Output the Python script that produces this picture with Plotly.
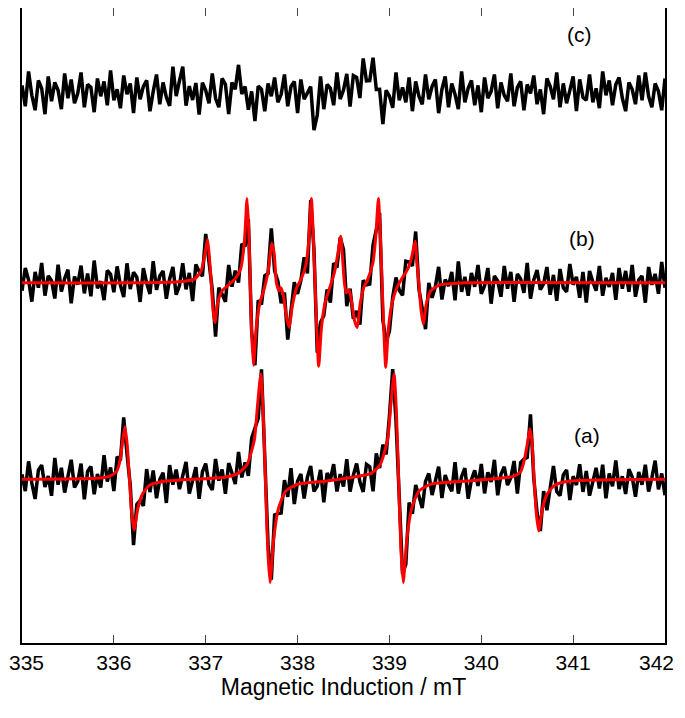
import numpy as np
import plotly.graph_objects as go

# baselines (vertical offsets of traces)
base_a, base_b, base_c = 165, 363, 555

red_a_x = [335, 335.8, 335.95, 336.03, 336.07, 336.09, 336.12, 336.145, 336.17, 336.195, 336.22, 336.26, 336.31, 336.39, 336.55,
           337.2, 337.35, 337.45, 337.53, 337.56, 337.6, 337.625, 337.65, 337.675, 337.70, 337.74, 337.79, 337.87, 338.0, 338.3,
           338.6, 338.8, 338.9, 338.98, 339.01, 339.05, 339.075, 339.10, 339.125, 339.15, 339.19, 339.24, 339.32, 339.45, 339.8,
           340.2, 340.35, 340.43, 340.47, 340.5, 340.53, 340.555, 340.575, 340.6, 340.625, 340.665, 340.715, 340.8, 340.95, 342]
red_a_y = [0, 1, 3, 8, 20, 35, 53, 35, 0, -35, -51, -30, -15, -6, -2,
           2, 6, 15, 40, 70, 106, 70, 0, -70, -104, -60, -30, -12, -5, -2,
           2, 6, 15, 40, 70, 106, 70, 0, -70, -104, -60, -30, -12, -5, -2,
           1, 3, 8, 20, 35, 51, 35, 0, -35, -52, -30, -15, -6, -2, 0]

red_b_x = [335, 336.7, 336.88, 336.95, 336.99, 337.02, 337.045, 337.06, 337.08, 337.10, 337.13, 337.18, 337.25, 337.32, 337.38,
           337.42, 337.45, 337.47, 337.485, 337.50, 337.52, 337.55, 337.59, 337.64, 337.68, 337.72, 337.745, 337.77, 337.80, 337.82,
           337.85, 337.88, 337.91, 337.94, 337.99, 338.04, 338.09, 338.12, 338.15, 338.17, 338.19, 338.21, 338.23, 338.26, 338.30,
           338.35, 338.40, 338.44, 338.47, 338.49, 338.51, 338.53, 338.56, 338.59, 338.62, 338.65, 338.68, 338.72, 338.77, 338.82,
           338.85, 338.88, 338.90, 338.92, 338.94, 338.96, 338.99, 339.03, 339.08, 339.14, 339.2, 339.24, 339.28, 339.30, 339.32,
           339.345, 339.37, 339.40, 339.45, 339.55, 339.8, 342]
red_b_y = [0, 1, 4, 12, 28, 44, 20, 0, -28, -40, -20, -8, -2, 4, 14,
           40, 85, 50, 0, -50, -83, -45, -20, -5, 12, 40, 30, 0, -8, -5,
           -15, -35, -45, -25, -5, 4, 18, 40, 85, 50, 0, -50, -84, -45, -20,
           -5, 10, 30, 47, 25, 0, -10, -7, -20, -38, -45, -22, -5, 5, 20,
           45, 85, 50, 0, -50, -85, -45, -20, -5, 5, 14, 25, 42, 20, 0,
           -28, -42, -22, -8, -2, 0, 0]

c_feat_x = [335, 336.6, 336.75, 336.85, 337.0, 337.3, 337.38, 337.5, 337.6, 338.1, 338.19, 338.25, 338.4, 338.7, 338.8, 338.92, 339.05, 342]
c_feat_y = [0, 0, 10, -5, 0, 0, 15, -20, 0, 0, -30, 0, 0, 10, 25, -15, 0, 0]

noise_a = [5,-12,18,-4,-20,9,14,-8,3,-17,21,-6,11,-14,2,19,-9,-3,15,-21,7,12,-16,4,-10,22,-5,8,-18,13,
-2,17,-11,6,-19,10,1,-13,20,-7,14,-15,3,9,-22,16,-4,11,-9,5,18,-14,-1,12,-20,7,15,-6,-12,19,
-3,8,-17,13,2,-10,21,-8,4,-16,11,6,-19,15,-5,9,-13,18,-2,-11,14,-7,20,-18,3,10,-15,6,17,-9,
-4,12,-21,8,1,16,-12,5,-8,19,-14,2,13,-6,-17,10,7,-20,15,-3,11,-10,4,18,-16,9,-1,-13,22,-7,
14,-5,-19,6,12,-11,3,17,-15,8,-2,-9,20,-12,5,13,-18,1,10,-6,16,-14,7,-3,19,-17,4,11,-8,-1,
15,-20,9,2,-13,18,-5,6,-10,14,-16,3,21,-7,-12,8,12,-19,5,-4,17,-11,10,-15,1,13,-8,16,-18,7,
-6,20,-9,4,-14,11,3,-17,8,-5,15,-12,2,19,-10,6,-16]
noise_b = [-8,15,3,-19,11,-5,20,-13,7,2,-16,18,-9,4,13,-21,6,-2,17,-11,9,-14,22,-6,1,-18,12,8,-10,16,
-3,-15,19,-7,10,5,-20,14,-1,-12,21,-8,6,11,-17,3,15,-13,-4,18,-9,7,-22,13,2,-11,16,-6,9,-19,
12,-3,-14,20,-5,8,-10,17,-16,4,1,-20,14,-7,11,-2,19,-12,6,-15,10,-18,3,16,-8,-1,13,-21,9,5,
-13,18,-4,7,-17,12,-9,2,21,-14,6,-6,15,-19,10,-3,-11,17,-1,8,-16,20,-10,4,13,-7,-18,11,3,-12,
16,-5,9,-20,14,-8,1,19,-15,5,-2,12,-17,22,-9,6,-13,10,-4,18,-11,-3,15,-21,7,2,-14,17,-6,11,
-19,9,4,-10,20,-16,3,13,-7,-1,16,-12,8,-18,14,-5,-9,19,-2,6,-15,11,-20,12,1,-8,17,-13,5,-4,
10,-17,15,-6,12,-9,18,-14,3,7,-20,16,-2,9,-11,21,-5]
noise_c = [7,-14,21,-3,-18,12,4,-22,16,-9,10,2,-17,19,-6,13,-11,-1,20,-15,8,5,-20,14,-4,11,-13,22,-8,3,
-16,17,-2,9,-21,15,-7,6,12,-19,1,18,-12,10,-5,-14,23,-9,4,16,-18,7,-3,13,-20,11,2,-11,19,-6,
-15,14,8,-22,10,-1,17,-13,5,-8,21,-16,12,3,-19,9,-4,15,-10,-2,18,-14,6,11,-21,13,-7,1,20,-12,
-5,16,-17,8,4,-13,19,-9,-1,14,-20,10,7,-15,22,-6,-11,17,-3,9,-18,12,2,-14,20,-8,5,-10,15,-19,
11,-4,-12,18,-7,6,13,-21,3,16,-15,9,-2,-17,21,-10,4,12,-13,7,-20,15,-6,1,18,-16,10,-3,-9,19,
-14,5,11,-18,8,-1,17,-12,3,-22,14,6,-7,20,-15,9,-11,2,16,-19,13,-5,-8,18,-10,4,-16,21,-3,12,
-13,8,15,-6,-19,10,3,-12,17,-8,20,-4,-15,9,1,-18,14]

x_ticks = [335, 336, 337, 338, 339, 340, 341, 342]
labels = ["(a)", "(b)", "(c)"]
label_x = [341.15, 341.1, 341.07]
label_y = [209, 408, 613]

def grid(n):
    return np.linspace(335, 342, len(n))

xa, xb, xc = grid(noise_a), grid(noise_b), grid(noise_c)
black_a = base_a + np.interp(xa, red_a_x, red_a_y) + np.array(noise_a)
black_b = base_b + np.interp(xb, red_b_x, red_b_y) + np.array(noise_b)
black_c = base_c + np.interp(xc, c_feat_x, c_feat_y) + np.array(noise_c)

fig = go.Figure()
for x, y in [(xc, black_c), (xb, black_b), (xa, black_a)]:
    fig.add_trace(go.Scatter(x=x, y=y, mode="lines", line=dict(color="black", width=3.5)))
fig.add_trace(go.Scatter(x=red_b_x, y=base_b + np.array(red_b_y), mode="lines", line=dict(color="#ff0000", width=3, shape="spline", smoothing=0.6)))
fig.add_trace(go.Scatter(x=red_a_x, y=base_a + np.array(red_a_y), mode="lines", line=dict(color="#ff0000", width=3, shape="spline", smoothing=0.6)))

for t, lx, ly in zip(labels, label_x, label_y):
    fig.add_annotation(x=lx, y=ly, text=t, showarrow=False, font=dict(size=21, color="black"))

# end tick labels as annotations (plotly hides tick labels that overflow the page)
inner_ticks = x_ticks[1:-1]
fig.add_annotation(x=x_ticks[0], y=0, yref="paper", text=str(x_ticks[0]), showarrow=False,
                   xanchor="left", yanchor="top", xshift=-15, yshift=-6, font=dict(size=21, color="black"))
fig.add_annotation(x=x_ticks[-1], y=0, yref="paper", text=str(x_ticks[-1]), showarrow=False,
                   xanchor="right", yanchor="top", xshift=11, yshift=-6, font=dict(size=21, color="black"))

fig.update_layout(
    width=685, height=718, showlegend=False,
    margin=dict(l=14, r=28, t=0, b=83),
    plot_bgcolor="white", paper_bgcolor="white",
    font=dict(family="Liberation Sans, Arial, sans-serif", color="black"),
)
fig.update_xaxes(range=[335, 342], tickvals=x_ticks, ticktext=[""] + [str(v) for v in inner_ticks] + [""],
                 ticks="inside", ticklen=8, mirror="ticks", automargin=False,
                 showline=True, linecolor="black", linewidth=1.5, showgrid=False, zeroline=False,
                 tickfont=dict(size=21), title=dict(text="Magnetic Induction / mT", font=dict(size=23), standoff=6))
fig.update_yaxes(range=[0, 640], showticklabels=False, ticks="", mirror=True, automargin=False,
                 showline=True, linecolor="black", linewidth=1.5, showgrid=False, zeroline=False)
fig.write_html("out.html")
